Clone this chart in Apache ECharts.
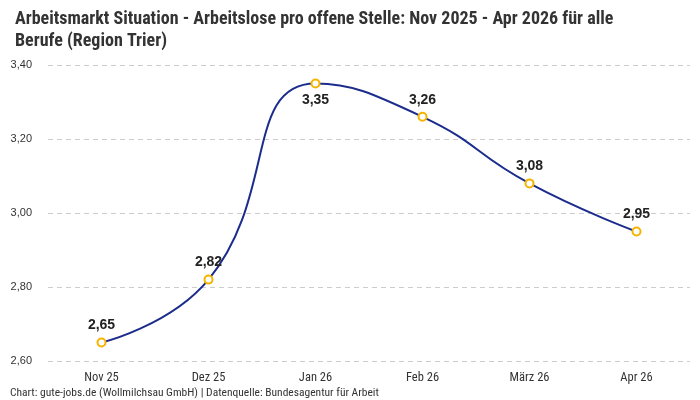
<!DOCTYPE html>
<html>
<head>
<meta charset="utf-8">
<script src="https://cdn.jsdelivr.net/npm/echarts@6/dist/echarts.min.js"></script>
<style>
html, body { margin: 0; padding: 0; background: #fff; }
#chart { width: 700px; height: 400px; }
</style>
</head>
<body>
<div id="chart"></div>
<script>
var months = ['Nov 25', 'Dez 25', 'Jan 26', 'Feb 26', 'März 26', 'Apr 26']
var quote = [2.65, 2.82, 3.35, 3.26, 3.08, 2.95]
var yTicks = { min: 2.6, max: 3.4, step: 0.2 }

var fmt = function (v) { return v.toFixed(2).replace('.', ',') }
var condensed = '"Liberation Sans Narrow", "Roboto Condensed", "DejaVu Sans Condensed", sans-serif'

var chart = echarts.init(document.getElementById('chart'))
chart.setOption({
  backgroundColor: '#fff',
  title: {
    text: 'Arbeitsmarkt Situation - Arbeitslose pro offene Stelle: Nov 2025 - Apr 2026 für alle\nBerufe (Region Trier)',
    left: 10,
    top: 3,
    textStyle: {
      fontFamily: condensed,
      fontWeight: 'bold',
      fontSize: 18,
      lineHeight: 22,
      color: '#333'
    }
  },
  graphic: [{
    type: 'text',
    left: 10,
    top: 387,
    style: {
      text: 'Chart: gute-jobs.de (Wollmilchsau GmbH) | Datenquelle: Bundesagentur für Arbeit',
      font: '11.5px ' + condensed,
      fill: '#333'
    }
  }],
  grid: { left: 48, right: 10, top: 65, bottom: 39 },
  xAxis: {
    type: 'category',
    data: months,
    axisLine: { show: false },
    axisTick: { show: false },
    axisLabel: { color: '#333', fontFamily: condensed, fontSize: 12.5, margin: 10 }
  },
  yAxis: {
    type: 'value',
    min: yTicks.min,
    max: yTicks.max,
    interval: yTicks.step,
    axisLabel: { color: '#333', fontSize: 11, margin: 16, formatter: fmt },
    splitLine: { lineStyle: { color: '#ccc', type: [5, 4] } }
  },
  series: [{
    type: 'line',
    smooth: true,
    lineStyle: { color: '#1c2c8c', width: 2 },
    symbol: 'circle',
    symbolSize: 8,
    itemStyle: { color: '#fff', borderColor: '#f5b400', borderWidth: 2 },
    label: {
      show: true,
      position: 'top',
      distance: 5,
      fontSize: 14,
      fontWeight: 'bold',
      color: '#222',
      formatter: function (p) { return fmt(p.value) }
    },
    data: quote.map(function (v, i) {
      return i === 2 ? { value: v, label: { position: 'bottom' } } : v
    })
  }]
})
</script>
</body>
</html>
